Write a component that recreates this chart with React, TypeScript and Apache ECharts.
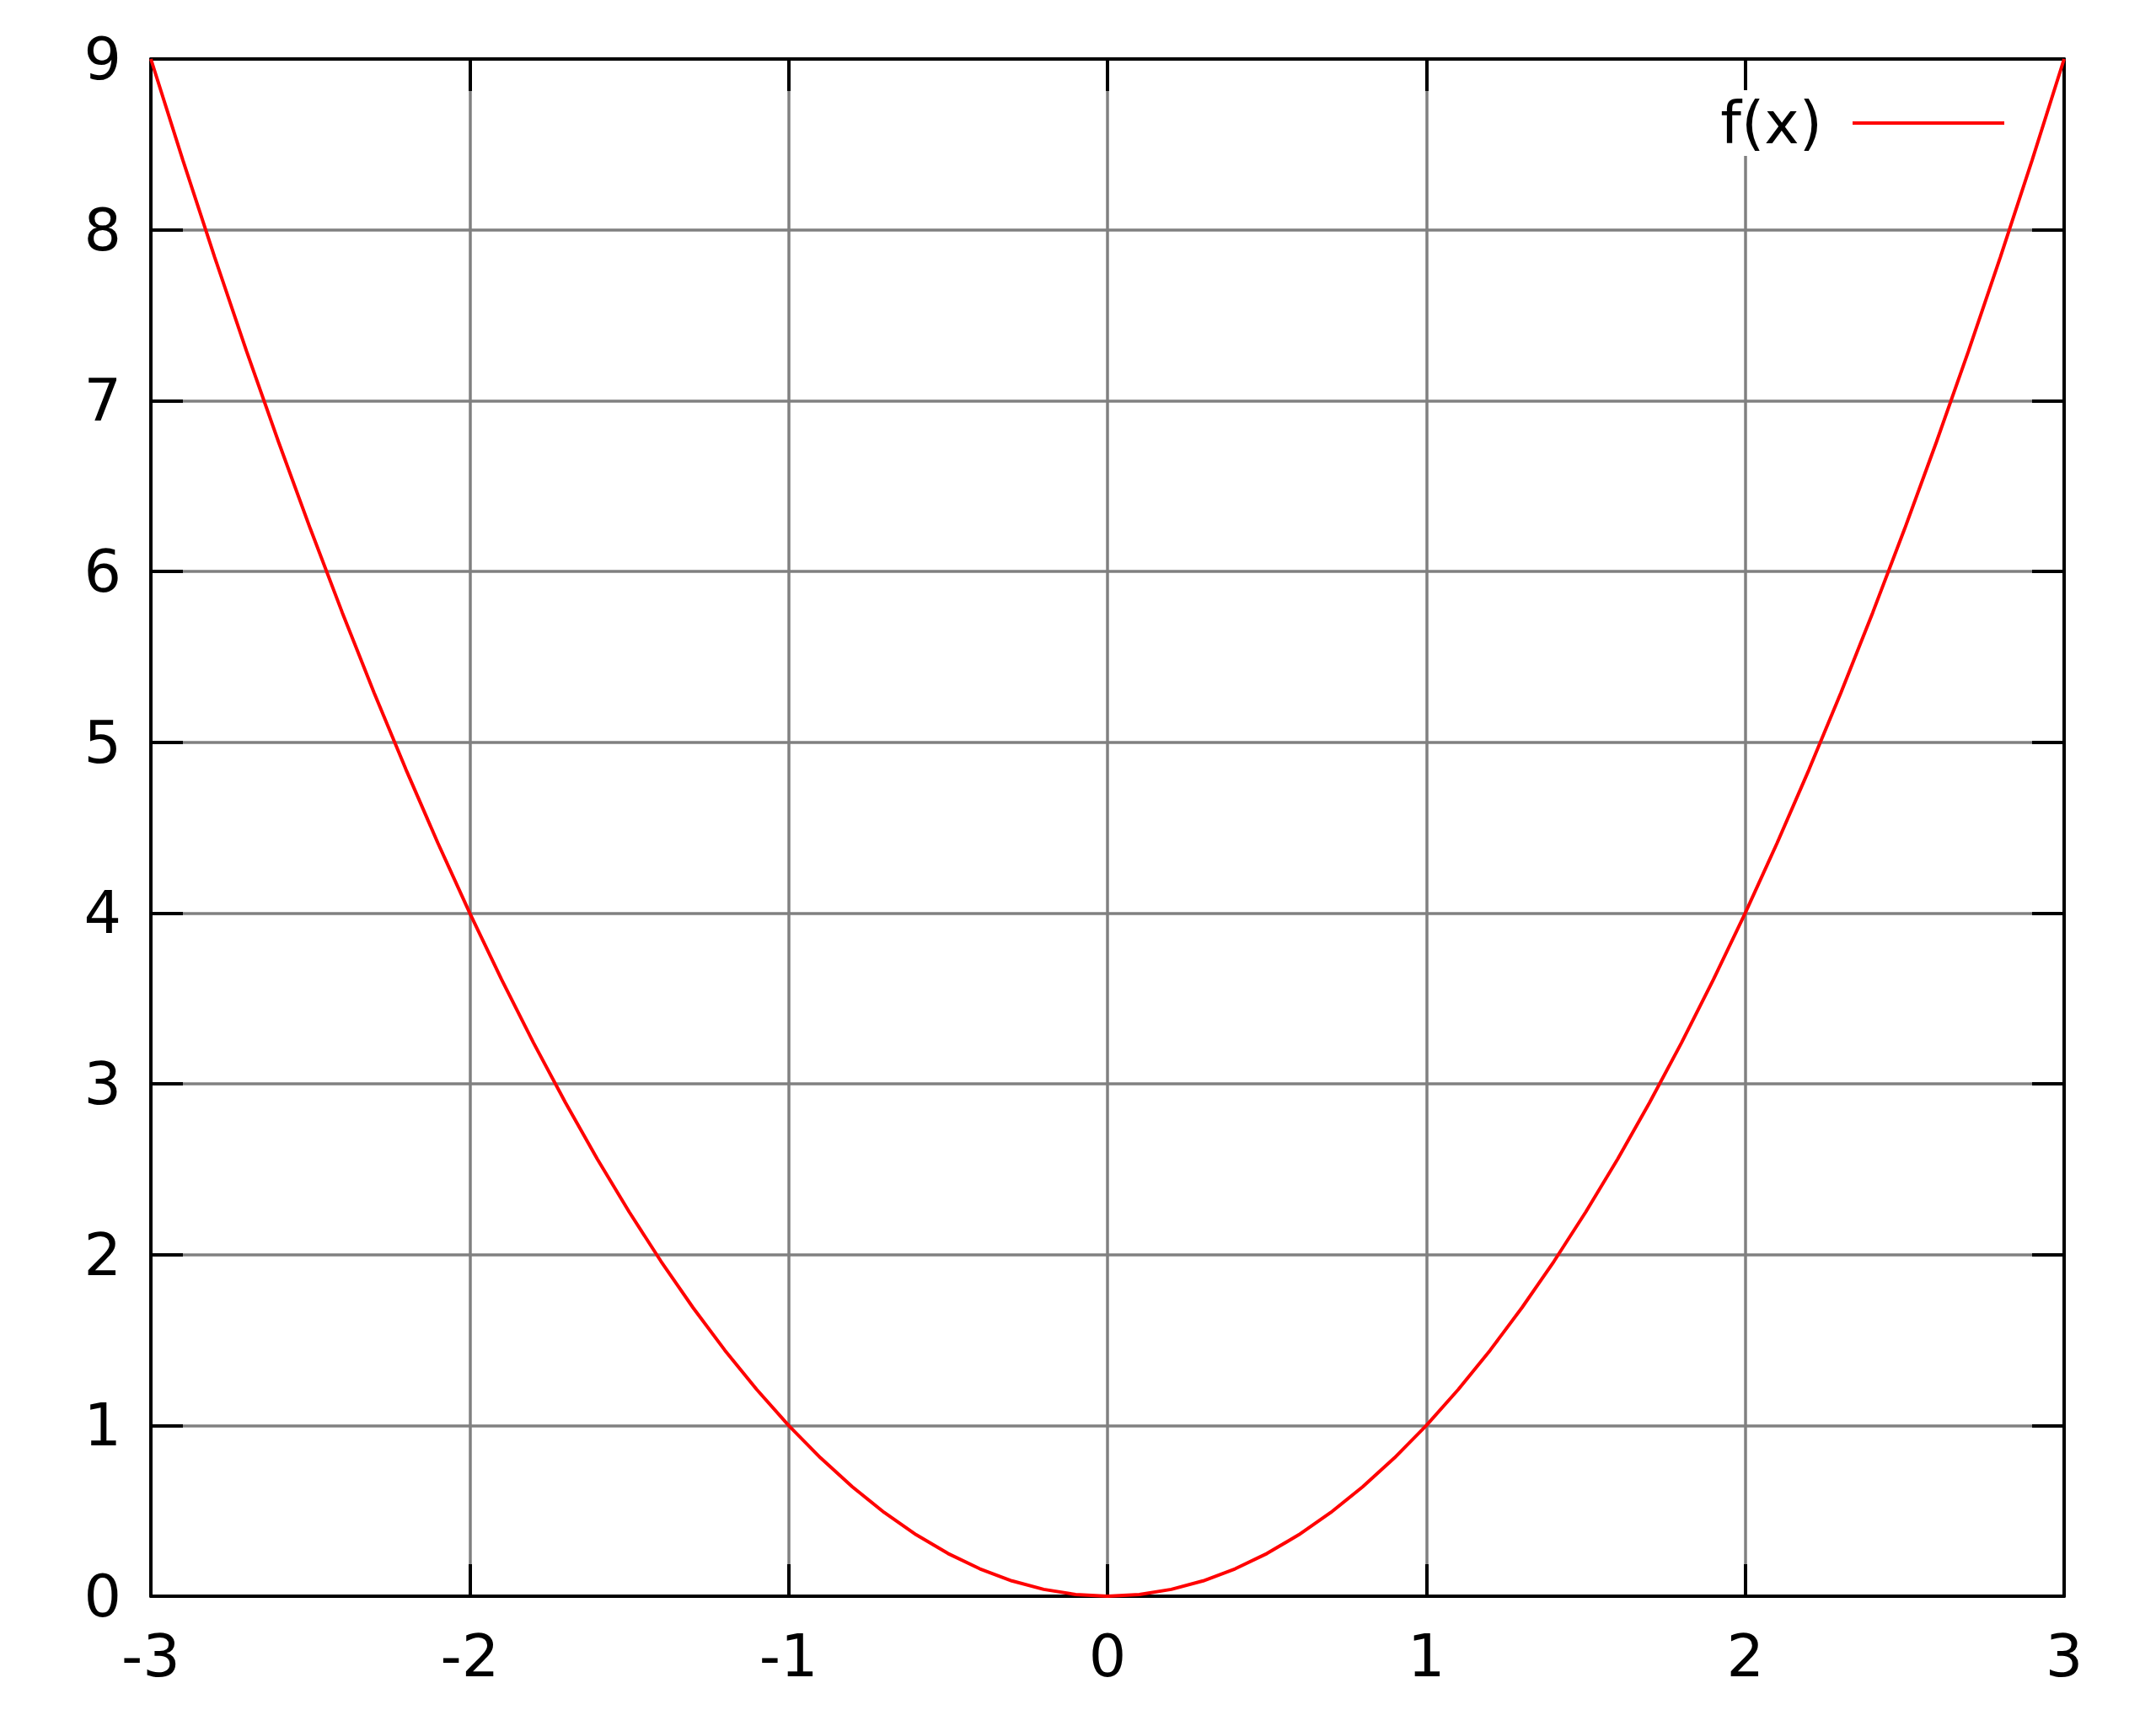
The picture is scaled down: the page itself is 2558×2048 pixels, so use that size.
import React, { useEffect, useRef } from 'react';
import * as echarts from 'echarts';

// sample points of f(x)
const xValues = [
  -3.0, -2.9, -2.8, -2.7, -2.6, -2.5, -2.4, -2.3, -2.2, -2.1,
  -2.0, -1.9, -1.8, -1.7, -1.6, -1.5, -1.4, -1.3, -1.2, -1.1,
  -1.0, -0.9, -0.8, -0.7, -0.6, -0.5, -0.4, -0.3, -0.2, -0.1,
  0.0, 0.1, 0.2, 0.3, 0.4, 0.5, 0.6, 0.7, 0.8, 0.9,
  1.0, 1.1, 1.2, 1.3, 1.4, 1.5, 1.6, 1.7, 1.8, 1.9,
  2.0, 2.1, 2.2, 2.3, 2.4, 2.5, 2.6, 2.7, 2.8, 2.9, 3.0,
];
const fValues = [
  9, 8.41, 7.84, 7.29, 6.76, 6.25, 5.76, 5.29, 4.84, 4.41,
  4, 3.61, 3.24, 2.89, 2.56, 2.25, 1.96, 1.69, 1.44, 1.21,
  1, 0.81, 0.64, 0.49, 0.36, 0.25, 0.16, 0.09, 0.04, 0.01,
  0, 0.01, 0.04, 0.09, 0.16, 0.25, 0.36, 0.49, 0.64, 0.81,
  1, 1.21, 1.44, 1.69, 1.96, 2.25, 2.56, 2.89, 3.24, 3.61,
  4, 4.41, 4.84, 5.29, 5.76, 6.25, 6.76, 7.29, 7.84, 8.41, 9,
];
const seriesName = 'f(x)';
const xRange = [-3, 3];
const yRange = [0, 9];

const FONT = 'DejaVu Sans';

export default function App() {
  const ref = useRef<HTMLDivElement>(null);
  useEffect(() => {
    if (!ref.current) return;
    const chart = echarts.init(ref.current, undefined, { renderer: 'svg' });
    const tick = { show: true, inside: true, length: 38, lineStyle: { color: '#000', width: 4 } };
    const line = { show: true, onZero: false, lineStyle: { color: '#000', width: 4 } };
    const label = { color: '#000', fontSize: 70, fontFamily: FONT };
    chart.setOption({
      animation: false,
      backgroundColor: '#fff',
      grid: { left: 179, right: 109, top: 70, bottom: 154 },
      legend: {
        data: [seriesName],
        right: 170,
        top: 107,
        align: 'right',
        icon: 'rect',
        itemWidth: 180,
        itemHeight: 4,
        padding: [4, 10, 4, 14],
        backgroundColor: '#fff',
        textStyle: { ...label, lineHeight: 70, padding: [0, 31, 0, 0] },
      },
      xAxis: [
        {
          type: 'value', min: xRange[0], max: xRange[1], interval: 1,
          axisLine: line, axisTick: tick,
          axisLabel: { ...label, margin: 36 },
          splitLine: { show: true, lineStyle: { color: '#808080', width: 3.5 } },
        },
        {
          type: 'value', position: 'top', min: xRange[0], max: xRange[1], interval: 1,
          axisLine: line, axisTick: tick, axisLabel: { show: false }, splitLine: { show: false },
        },
      ],
      yAxis: [
        {
          type: 'value', min: yRange[0], max: yRange[1], interval: 1,
          axisLine: line, axisTick: tick,
          axisLabel: { ...label, margin: 35 },
          splitLine: { show: true, lineStyle: { color: '#808080', width: 3.5 } },
        },
        {
          type: 'value', position: 'right', min: yRange[0], max: yRange[1], interval: 1,
          axisLine: line, axisTick: tick, axisLabel: { show: false }, splitLine: { show: false },
        },
      ],
      series: [
        {
          name: seriesName,
          type: 'line',
          data: xValues.map((x, i) => [x, fValues[i]]),
          showSymbol: false,
          symbol: 'none',
          itemStyle: { color: '#ff0000' },
          lineStyle: { color: '#ff0000', width: 4 },
        },
      ],
    });
    return () => chart.dispose();
  }, []);
  return <div ref={ref} style={{ position: 'fixed', left: 0, top: 0, width: 2558, height: 2048 }} />;
}
